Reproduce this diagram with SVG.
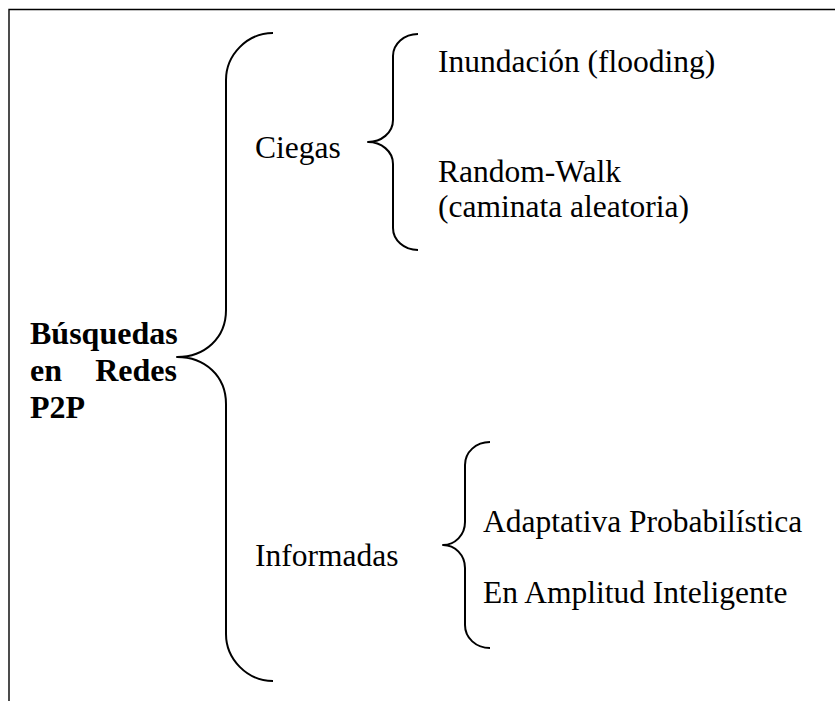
<svg xmlns="http://www.w3.org/2000/svg" width="835" height="701" viewBox="0 0 835 701">
  <style>
    .frame { fill: none; stroke: #000; stroke-width: 1.4; }
    .brace { fill: none; stroke: #000; stroke-width: 2; stroke-linejoin: round; }
    text { font-family: "Liberation Serif", "Times New Roman", serif; font-size: 31.5px; fill: #000; }
    .root { font-weight: bold; font-size: 32px; }
  </style>
  <rect width="835" height="701" fill="#fff"/>
  <path class="frame" d="M9,701 L9,9.5 L835,9.5"/>

  <g id="connectors">
    <!-- main brace -->
    <path class="brace" d="M273,33 C247,33 226,55 226,80 L226,310 C226,338 205,357 177,357 C205,357 226,376 226,404 L226,634 C226,659 247,681 273,681"/>
    <!-- brace for blind searches -->
    <path class="brace" d="M418,34 C404,34 393,44 393,56 L393,120 C393,133 381,142 368,142 C381,142 393,151 393,164 L393,228 C393,240 404,250 418,250"/>
    <!-- brace for informed searches -->
    <path class="brace" d="M490,442 C476,442 465,452 465,465 L465,522 C465,535 455,545 443,545 C455,545 465,555 465,568 L465,625 C465,638 476,648 490,648"/>
  </g>

  <g id="root">
    <text class="root" x="30" y="344">Búsquedas</text>
    <text class="root" x="30" y="381">en</text>
    <text class="root" x="177" y="381" text-anchor="end">Redes</text>
    <text class="root" x="30" y="418">P2P</text>
  </g>

  <g id="ciegas">
    <text x="255" y="158">Ciegas</text>
  </g>
  <g id="inundacion">
    <text x="438" y="72">Inundación (flooding)</text>
  </g>
  <g id="random-walk">
    <text x="438" y="182">Random-Walk</text>
    <text x="438" y="217">(caminata aleatoria)</text>
  </g>

  <g id="informadas">
    <text x="255" y="566">Informadas</text>
  </g>
  <g id="adaptativa">
    <text x="483" y="532">Adaptativa Probabilística</text>
  </g>
  <g id="amplitud">
    <text x="483" y="603">En Amplitud Inteligente</text>
  </g>
</svg>
